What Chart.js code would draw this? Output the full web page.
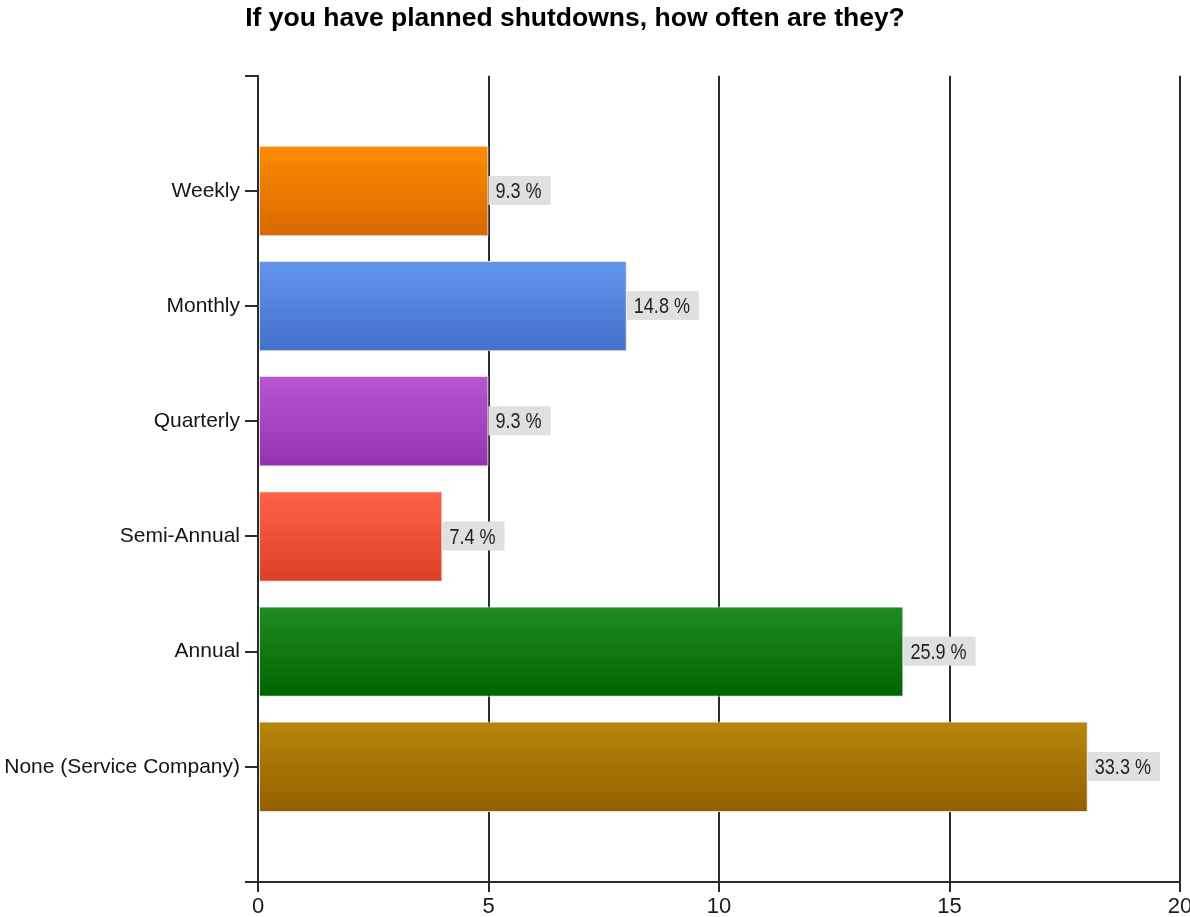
<!DOCTYPE html>
<html>
<head>
<meta charset="utf-8">
<script src="https://cdn.jsdelivr.net/npm/chart.js@4/dist/chart.umd.min.js"></script>
<style>
  html, body { margin: 0; padding: 0; background: #ffffff; }
  #wrap { width: 1190px; height: 917px; }
</style>
</head>
<body>
<div id="wrap"><canvas id="chart" width="1190" height="917"></canvas></div>
<script>
// Survey answers: how often planned shutdowns happen (number of respondents)
const categories = ['Weekly', 'Monthly', 'Quarterly', 'Semi-Annual', 'Annual', 'None (Service Company)'];
const responses = [5, 8, 5, 4, 14, 18];
const xTickValues = [0, 5, 10, 15, 20];

// Per-bar gradient colours (top edge -> bottom edge)
const topColors = ['#ff8c00', '#6495ed', '#ba55d3', '#ff6347', '#228b22', '#b8860b'];
const bottomColors = ['#d96800', '#4370c8', '#9433b2', '#db3f26', '#006400', '#945f00'];

const titleText = 'If you have planned shutdowns, how often are they?';

const total = responses.reduce((a, b) => a + b, 0);
const BAR_PCT = 0.785;
const AXIS_COLOR = '#2b2b2b';
const FONT = '"Liberation Sans", Arial, sans-serif';

// One empty slot above and below the bars
const axisLabels = [''].concat(categories, ['']);
const axisData = [null].concat(responses, [null]);

function barFill(ctx) {
  const i = ctx.dataIndex - 1;
  const chart = ctx.chart;
  const y = chart.scales && chart.scales.y;
  if (i < 0 || i >= categories.length) return '#ffffff';
  if (!y || !chart.chartArea) return topColors[i];
  const c = y.getPixelForValue(ctx.dataIndex);
  const half = Math.abs(y.getPixelForValue(1) - y.getPixelForValue(0)) * BAR_PCT / 2;
  const g = chart.ctx.createLinearGradient(0, c - half, 0, c + half);
  g.addColorStop(0, topColors[i]);
  g.addColorStop(1, bottomColors[i]);
  return g;
}

// Percentage boxes at the end of each bar (narrow lettering)
const valueLabels = {
  id: 'valueLabels',
  afterDatasetsDraw(chart) {
    const ctx = chart.ctx;
    const meta = chart.getDatasetMeta(0);
    const data = chart.data.datasets[0].data;
    const squeeze = 0.82;
    ctx.save();
    ctx.font = '22px ' + FONT;
    ctx.textBaseline = 'middle';
    ctx.textAlign = 'left';
    meta.data.forEach((bar, idx) => {
      const v = data[idx];
      if (v === null || v === undefined) return;
      const text = (v / total * 100).toFixed(1) + ' %';
      const w = ctx.measureText(text).width * squeeze;
      ctx.fillStyle = '#e0e0e0';
      ctx.fillRect(bar.x, bar.y - 15, w + 16, 29);
      ctx.save();
      ctx.translate(bar.x + 7, bar.y + 1);
      ctx.scale(squeeze, 1);
      ctx.fillStyle = '#222222';
      ctx.fillText(text, 0, 0);
      ctx.restore();
    });
    ctx.restore();
  }
};

// Nudge the title block slightly left of the canvas centre
const titleShift = {
  id: 'titleShift',
  afterLayout(chart) {
    const t = chart.titleBlock;
    if (t) { t.left -= 20; t.right -= 20; }
  }
};

new Chart(document.getElementById('chart'), {
  type: 'bar',
  data: {
    labels: axisLabels,
    datasets: [{
      data: axisData,
      backgroundColor: (ctx) => barFill(ctx),
      borderColor: '#e2e2e2',
      borderWidth: 1,
      borderSkipped: false,
      barPercentage: BAR_PCT,
      categoryPercentage: 1
    }]
  },
  options: {
    indexAxis: 'y',
    responsive: false,
    animation: false,
    events: [],
    layout: { padding: 0 },
    plugins: {
      legend: { display: false },
      tooltip: { enabled: false },
      title: {
        display: true,
        text: titleText,
        color: '#000000',
        font: { family: FONT, size: 26.5, weight: 'bold' },
        padding: { top: 3, bottom: 41 }
      }
    },
    scales: {
      x: {
        type: 'linear',
        min: xTickValues[0],
        max: xTickValues[xTickValues.length - 1],
        afterBuildTicks: (s) => { s.ticks = xTickValues.map(v => ({ value: v })); },
        afterFit: (s) => { s.height = 35; s.paddingRight = 10; },
        ticks: {
          color: '#1a1a1a',
          font: { family: FONT, size: 22 },
          padding: 2,
          maxRotation: 0
        },
        grid: { color: AXIS_COLOR, lineWidth: 2, tickLength: 10, drawTicks: true },
        border: { color: AXIS_COLOR, width: 2 }
      },
      y: {
        type: 'category',
        offset: false,
        afterFit: (s) => { s.width = 258; },
        ticks: {
          color: '#151515',
          font: { family: FONT, size: 21 },
          padding: 5,
          autoSkip: false
        },
        grid: { offset: false, drawOnChartArea: false, color: AXIS_COLOR, lineWidth: 2, tickLength: 13 },
        border: { color: AXIS_COLOR, width: 2 }
      }
    }
  },
  plugins: [valueLabels, titleShift]
});
</script>
</body>
</html>
